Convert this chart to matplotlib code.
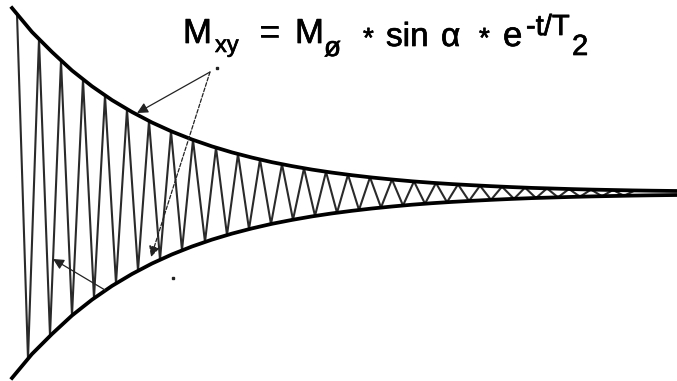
import matplotlib
matplotlib.use("Agg")
import matplotlib.pyplot as plt
import matplotlib.patheffects as pe
import numpy as np

# envelope samples (time in px units, amplitude)
env_t = [12, 32, 52, 72, 92, 112, 132, 152, 172, 192, 212, 232, 252, 272, 292,
         312, 332, 352, 372, 392, 412, 432, 452, 472, 492, 512, 532, 552, 572,
         592, 612, 632, 652, 677]
env_amp = [185, 161, 141, 122.5, 106.7, 92.9, 81.0, 70.5, 61.4, 53.5, 46.6, 40.6,
           35.4, 30.8, 26.9, 23.4, 20.4, 17.8, 15.5, 13.5, 11.7, 10.2, 8.9, 7.8,
           6.8, 5.9, 5.1, 4.5, 3.9, 3.4, 3.0, 2.6, 2.3, 2.0]

# turning points of the precessing signal (alternating top / bottom)
peak_t = [17, 28, 39, 50, 61, 72, 83, 94, 105, 116, 127, 138, 149, 160, 171, 182,
          193, 205, 216, 227, 238, 249, 260, 271, 282, 293, 304, 315, 326, 337,
          348, 359, 370, 381, 392, 403, 414, 425, 436, 447, 458, 469, 480, 491,
          502, 514, 525, 536, 547, 558, 569, 580, 591, 602, 613, 624, 635]
peak_amp = [179, -166, 154, -142.6, 132.2, -122.5, 113.5, -105.2, 97.6, -90.5,
            83.8, -77.7, 72.0, -66.8, 61.9, -57.3, 53.2, -49.0, 45.4, -42.1, 39.0,
            -36.1, 33.5, -31.1, 28.8, -26.7, 24.7, -22.9, 21.2, -19.7, 18.3, -16.9,
            15.7, -14.5, 13.5, -12.5, 11.6, -10.7, 10.0, -9.2, 8.6, -7.9, 7.3,
            -6.8, 6.3, -5.8, 5.4, -5.0, 4.6, -4.3, 4.0, -3.7, 3.4, -3.2, 3.0,
            -2.8, 2.6]

fig = plt.figure(figsize=(6.77, 3.81), dpi=100)
fig.patch.set_facecolor('white')

ax = fig.add_axes([0, 0, 1, 1])
ax.set_xlim(0, 677)
ax.set_ylim(-188, 193)
ax.axis('off')

ax.plot(peak_t, peak_amp, color='#2a2a2a', lw=1.5)
env = np.array(env_amp)
ax.plot(env_t, env, color='black', lw=2.7)
ax.plot(env_t, -env, color='black', lw=2.7)

# overlay in pixel units for the label and pointers
ov = fig.add_axes([0, 0, 1, 1])
ov.set_xlim(0, 677)
ov.set_ylim(381, 0)
ov.axis('off')
ov.patch.set_alpha(0)

fam = ['Liberation Sans', 'DejaVu Sans']
heavy = [pe.withStroke(linewidth=0.5, foreground='black')]
parts = [
    ("M", 183, 43, 25),
    ("xy", 215, 52, 17),
    ("=", 259, 43, 25),
    ("M", 295, 43, 25),
    ("ø", 324, 56, 20),
    ("*", 363, 47, 20),
    ("sin", 386, 46, 24),
    ("α", 441, 46, 24),
    ("*", 479, 47, 20),
    ("e", 503, 46, 25),
    ("-t/T", 526, 35, 21),
    ("2", 572, 55, 21),
]
for s, x, y, fs in parts:
    ov.text(x, y, s, fontsize=fs, family=fam, va='baseline', ha='left',
            color='black', path_effects=heavy)

arrow_kw = dict(arrowstyle='-|>', color='#222222', lw=0.9, mutation_scale=16,
                shrinkA=0, shrinkB=0)
ov.annotate('', xy=(137, 113), xytext=(210, 72), arrowprops=arrow_kw)
ov.annotate('', xy=(151, 257), xytext=(210, 72),
            arrowprops=dict(arrow_kw, linestyle=(0, (3, 1.5))))
ov.annotate('', xy=(53, 259), xytext=(105, 290), arrowprops=arrow_kw)
ov.plot([217, 173], [68, 278], 's', color='#222222', ms=2, ls='none')

fig.savefig('out.png', dpi=100, facecolor='white')
